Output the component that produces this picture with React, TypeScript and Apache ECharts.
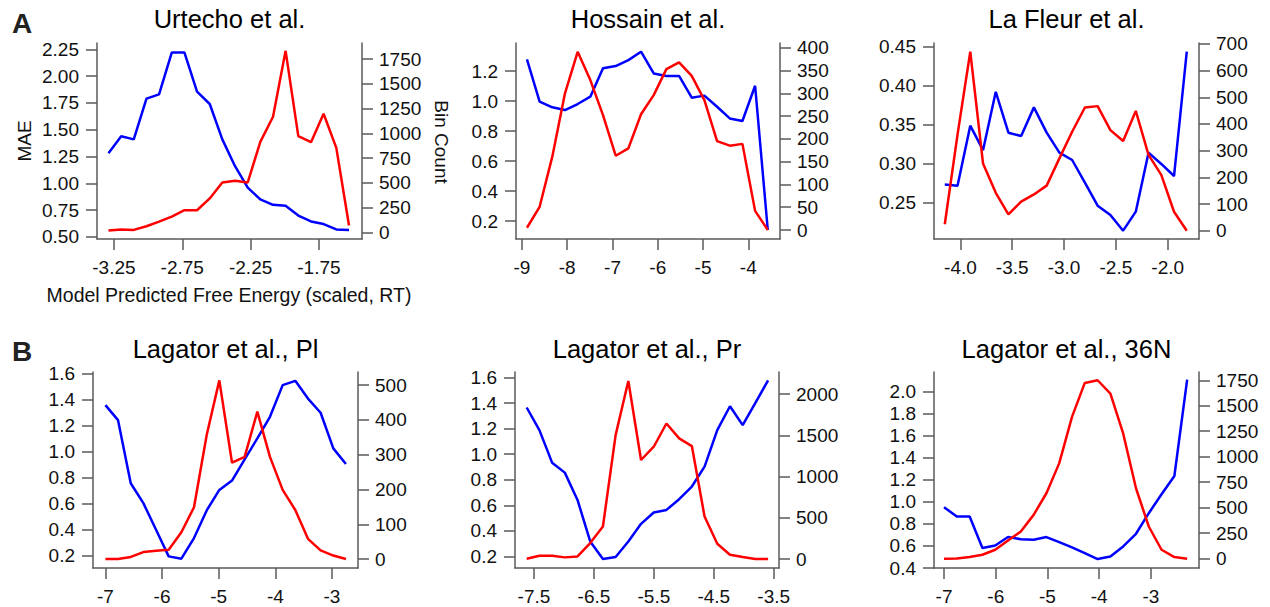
import React, { useEffect, useRef } from "react";
import * as echarts from "echarts";

// ---- Urtecho et al. ----
const urtechoEnergy = [-3.29, -3.197, -3.105, -3.012, -2.92, -2.827, -2.734, -2.642, -2.549, -2.457, -2.364, -2.271, -2.179, -2.086, -1.994, -1.901, -1.808, -1.716, -1.623, -1.53];
const urtechoMae = [1.28, 1.44, 1.41, 1.79, 1.83, 2.22, 2.22, 1.855, 1.74, 1.41, 1.16, 0.96, 0.85, 0.8, 0.79, 0.7, 0.645, 0.62, 0.57, 0.565];
const urtechoCount = [17, 27, 24, 61, 108, 159, 223, 223, 342, 504, 521, 504, 914, 1168, 1835, 972, 911, 1198, 853, 68];

// ---- Hossain et al. ----
const hossainEnergy = [-8.89, -8.61, -8.33, -8.05, -7.77, -7.49, -7.21, -6.93, -6.65, -6.37, -6.09, -5.81, -5.53, -5.25, -4.97, -4.69, -4.41, -4.13, -3.85, -3.57];
const hossainMae = [1.278, 0.996, 0.958, 0.94, 0.98, 1.029, 1.218, 1.233, 1.273, 1.329, 1.184, 1.167, 1.167, 1.022, 1.036, 0.962, 0.884, 0.867, 1.102, 0.14];
const hossainCount = [5, 51, 161, 300, 391, 329, 252, 163, 179, 254, 296, 353, 368, 338, 285, 195, 185, 189, 42, 0];

// ---- La Fleur et al. ----
const lafleurEnergy = [-4.151, -4.028, -3.905, -3.782, -3.659, -3.537, -3.414, -3.291, -3.168, -3.045, -2.922, -2.799, -2.676, -2.553, -2.43, -2.308, -2.185, -2.062, -1.939, -1.816];
const lafleurMae = [0.273, 0.2714, 0.3485, 0.317, 0.392, 0.3395, 0.3352, 0.372, 0.3395, 0.3138, 0.3044, 0.2753, 0.2457, 0.2337, 0.2136, 0.238, 0.3138, 0.2993, 0.2838, 0.4436];
const lafleurCount = [24, 360, 671, 252, 142, 61, 109, 136, 169, 271, 371, 462, 467, 377, 336, 449, 284, 209, 71, 0];

// ---- Lagator et al., Pl ----
const plEnergy = [-7.0, -6.777, -6.553, -6.33, -6.106, -5.883, -5.659, -5.436, -5.212, -4.989, -4.765, -4.542, -4.318, -4.095, -3.871, -3.648, -3.424, -3.201, -2.977, -2.754];
const plMae = [1.357, 1.242, 0.757, 0.604, 0.4, 0.195, 0.177, 0.336, 0.548, 0.706, 0.778, 0.941, 1.102, 1.268, 1.511, 1.544, 1.408, 1.299, 1.025, 0.905];
const plCount = [0, 0, 6, 20, 24, 27, 77, 149, 357, 514, 277, 294, 424, 294, 199, 141, 58, 25, 10, 0];

// ---- Lagator et al., Pr ----
const prEnergy = [-7.622, -7.41, -7.198, -6.986, -6.774, -6.562, -6.35, -6.138, -5.926, -5.714, -5.502, -5.29, -5.078, -4.866, -4.654, -4.442, -4.23, -4.018, -3.806, -3.594];
const prMae = [1.366, 1.189, 0.934, 0.856, 0.642, 0.317, 0.179, 0.195, 0.317, 0.455, 0.544, 0.564, 0.648, 0.747, 0.903, 1.189, 1.376, 1.228, 1.402, 1.579];
const prCount = [4, 40, 40, 20, 32, 194, 395, 1504, 2161, 1202, 1363, 1645, 1464, 1371, 516, 185, 52, 24, 0, 0];

// ---- Lagator et al., 36N ----
const n36Energy = [-7.0, -6.753, -6.505, -6.258, -6.01, -5.763, -5.516, -5.268, -5.021, -4.774, -4.526, -4.279, -4.031, -3.784, -3.537, -3.289, -3.042, -2.795, -2.547, -2.3];
const n36Mae = [0.952, 0.868, 0.868, 0.581, 0.605, 0.681, 0.662, 0.656, 0.681, 0.635, 0.587, 0.536, 0.481, 0.505, 0.596, 0.711, 0.898, 1.07, 1.236, 2.112];
const n36Count = [0, 3, 16, 39, 88, 179, 267, 430, 642, 935, 1391, 1724, 1750, 1619, 1228, 691, 316, 88, 16, 0];

// ---- tick labels ----
const urtechoXTicks = [-3.25, -2.75, -2.25, -1.75];
const urtechoMaeTicks = [0.5, 0.75, 1.0, 1.25, 1.5, 1.75, 2.0, 2.25];
const urtechoCountTicks = [0, 250, 500, 750, 1000, 1250, 1500, 1750];
const hossainXTicks = [-9, -8, -7, -6, -5, -4];
const hossainMaeTicks = [0.2, 0.4, 0.6, 0.8, 1.0, 1.2];
const hossainCountTicks = [0, 50, 100, 150, 200, 250, 300, 350, 400];
const lafleurXTicks = [-4.0, -3.5, -3.0, -2.5, -2.0];
const lafleurMaeTicks = [0.25, 0.3, 0.35, 0.4, 0.45];
const lafleurCountTicks = [0, 100, 200, 300, 400, 500, 600, 700];
const plXTicks = [-7, -6, -5, -4, -3];
const plMaeTicks = [0.2, 0.4, 0.6, 0.8, 1.0, 1.2, 1.4, 1.6];
const plCountTicks = [0, 100, 200, 300, 400, 500];
const prXTicks = [-7.5, -6.5, -5.5, -4.5, -3.5];
const prMaeTicks = [0.2, 0.4, 0.6, 0.8, 1.0, 1.2, 1.4, 1.6];
const prCountTicks = [0, 500, 1000, 1500, 2000];
const n36XTicks = [-7, -6, -5, -4, -3];
const n36MaeTicks = [0.4, 0.6, 0.8, 1.0, 1.2, 1.4, 1.6, 1.8, 2.0];
const n36CountTicks = [0, 250, 500, 750, 1000, 1250, 1500, 1750];

const titles = ["Urtecho et al.", "Hossain et al.", "La Fleur et al.", "Lagator et al., Pl", "Lagator et al., Pr", "Lagator et al., 36N"];

const panelData = [
  { x: urtechoEnergy, mae: urtechoMae, count: urtechoCount, xTicks: urtechoXTicks, maeTicks: urtechoMaeTicks, countTicks: urtechoCountTicks },
  { x: hossainEnergy, mae: hossainMae, count: hossainCount, xTicks: hossainXTicks, maeTicks: hossainMaeTicks, countTicks: hossainCountTicks },
  { x: lafleurEnergy, mae: lafleurMae, count: lafleurCount, xTicks: lafleurXTicks, maeTicks: lafleurMaeTicks, countTicks: lafleurCountTicks },
  { x: plEnergy, mae: plMae, count: plCount, xTicks: plXTicks, maeTicks: plMaeTicks, countTicks: plCountTicks },
  { x: prEnergy, mae: prMae, count: prCount, xTicks: prXTicks, maeTicks: prMaeTicks, countTicks: prCountTicks },
  { x: n36Energy, mae: n36Mae, count: n36Count, xTicks: n36XTicks, maeTicks: n36MaeTicks, countTicks: n36CountTicks },
];

// Plot boxes and axis extents for each panel
const layout = [
  { left: 97, top: 43, width: 265, height: 196, xr: [-3.374, -1.435], yl: [0.481, 2.309], yr: [-68, 1914], xd: 2, yd: 2 },
  { left: 516, top: 43, width: 264, height: 196, xr: [-9.132, -3.3], yl: [0.08, 1.387], yr: [-19.7, 410.3], xd: 0, yd: 1 },
  { left: 934, top: 43, width: 265, height: 196, xr: [-4.255, -1.698], yl: [0.2029, 0.4547], yr: [-31.2, 703.7], xd: 1, yd: 2 },
  { left: 93, top: 372, width: 265, height: 196, xr: [-7.219, -2.541], yl: [0.1057, 1.612], yr: [-25.8, 538], xd: 0, yd: 1 },
  { left: 515, top: 372, width: 264, height: 196, xr: [-7.817, -3.412], yl: [0.109, 1.644], yr: [-109, 2270], xd: 1, yd: 1 },
  { left: 934, top: 372, width: 265, height: 196, xr: [-7.194, -2.071], yl: [0.4, 2.181], yr: [-91, 1831], xd: 0, yd: 1 },
];

const FONT = "'Liberation Sans', Arial, Helvetica, sans-serif";
const AXIS_COLOR = "#5a5a5a";
const LABEL_COLOR = "#111";
const TICK_FONT = 19;

export default function App() {
  const ref = useRef<HTMLDivElement>(null);

  useEffect(() => {
    if (!ref.current) return;
    const chart = echarts.init(ref.current, null, { renderer: "svg" });

    const axisBase = (ticks: number[], dec: number) => ({
      type: "value",
      axisLine: { show: true, onZero: false, lineStyle: { color: AXIS_COLOR, width: 1.5 } },
      axisTick: { show: true, length: 11, customValues: ticks, lineStyle: { color: AXIS_COLOR, width: 1.5 } },
      axisLabel: {
        customValues: ticks,
        formatter: (v: number) => v.toFixed(dec),
        color: LABEL_COLOR,
        fontSize: TICK_FONT,
        fontFamily: FONT,
      },
      splitLine: { show: false },
    });

    const grid: any[] = [];
    const xAxis: any[] = [];
    const yAxis: any[] = [];
    const series: any[] = [];
    const graphic: any[] = [];

    panelData.forEach((p, i) => {
      const l = layout[i];
      grid.push({ left: l.left, top: l.top, width: l.width, height: l.height });
      const xa: any = axisBase(p.xTicks, l.xd);
      xa.gridIndex = i;
      xa.min = l.xr[0];
      xa.max = l.xr[1];
      xa.axisLabel.margin = 19;
      xAxis.push(xa);

      const yl: any = axisBase(p.maeTicks, l.yd);
      yl.gridIndex = i;
      yl.position = "left";
      yl.min = l.yl[0];
      yl.max = l.yl[1];
      yl.axisLabel.margin = 18;
      yAxis.push(yl);

      const yr: any = axisBase(p.countTicks, 0);
      yr.gridIndex = i;
      yr.position = "right";
      yr.min = l.yr[0];
      yr.max = l.yr[1];
      yr.axisLabel.margin = 17;
      yAxis.push(yr);

      series.push({
        type: "line",
        xAxisIndex: i,
        yAxisIndex: i * 2,
        data: p.x.map((x, k) => [x, p.mae[k]]),
        showSymbol: false,
        lineStyle: { color: "#0000ff", width: 2.5 },
        itemStyle: { color: "#0000ff" },
      });
      series.push({
        type: "line",
        xAxisIndex: i,
        yAxisIndex: i * 2 + 1,
        data: p.x.map((x, k) => [x, p.count[k]]),
        showSymbol: false,
        lineStyle: { color: "#ff0000", width: 2.5 },
        itemStyle: { color: "#ff0000" },
      });

      graphic.push({
        type: "text",
        x: l.left + l.width / 2,
        y: i < 3 ? 19 : 349,
        style: { text: titles[i], fontSize: 25.5, fontFamily: FONT, fill: "#000", textAlign: "center", textVerticalAlign: "middle" },
      });
    });

    graphic.push(
      { type: "text", x: 12, y: 23, style: { text: "A", fontSize: 28, fontWeight: "bold", fontFamily: FONT, fill: "#222", textAlign: "left", textVerticalAlign: "middle" } },
      { type: "text", x: 12, y: 351, style: { text: "B", fontSize: 28, fontWeight: "bold", fontFamily: FONT, fill: "#222", textAlign: "left", textVerticalAlign: "middle" } },
      { type: "text", x: 24, y: 141, rotation: Math.PI / 2, style: { text: "MAE", fontSize: 19, fontFamily: FONT, fill: LABEL_COLOR, textAlign: "center", textVerticalAlign: "middle" } },
      { type: "text", x: 441, y: 142, rotation: -Math.PI / 2, style: { text: "Bin Count", fontSize: 19, fontFamily: FONT, fill: LABEL_COLOR, textAlign: "center", textVerticalAlign: "middle" } },
      { type: "text", x: 229, y: 295, style: { text: "Model Predicted Free Energy (scaled, RT)", fontSize: 19.5, fontFamily: FONT, fill: LABEL_COLOR, textAlign: "center", textVerticalAlign: "middle" } }
    );

    chart.setOption({
      animation: false,
      backgroundColor: "#ffffff",
      textStyle: { fontFamily: FONT },
      grid,
      xAxis,
      yAxis,
      series,
      graphic,
    });

    return () => chart.dispose();
  }, []);

  return <div ref={ref} style={{ position: "fixed", left: 0, top: 0, width: 1270, height: 607 }} />;
}
